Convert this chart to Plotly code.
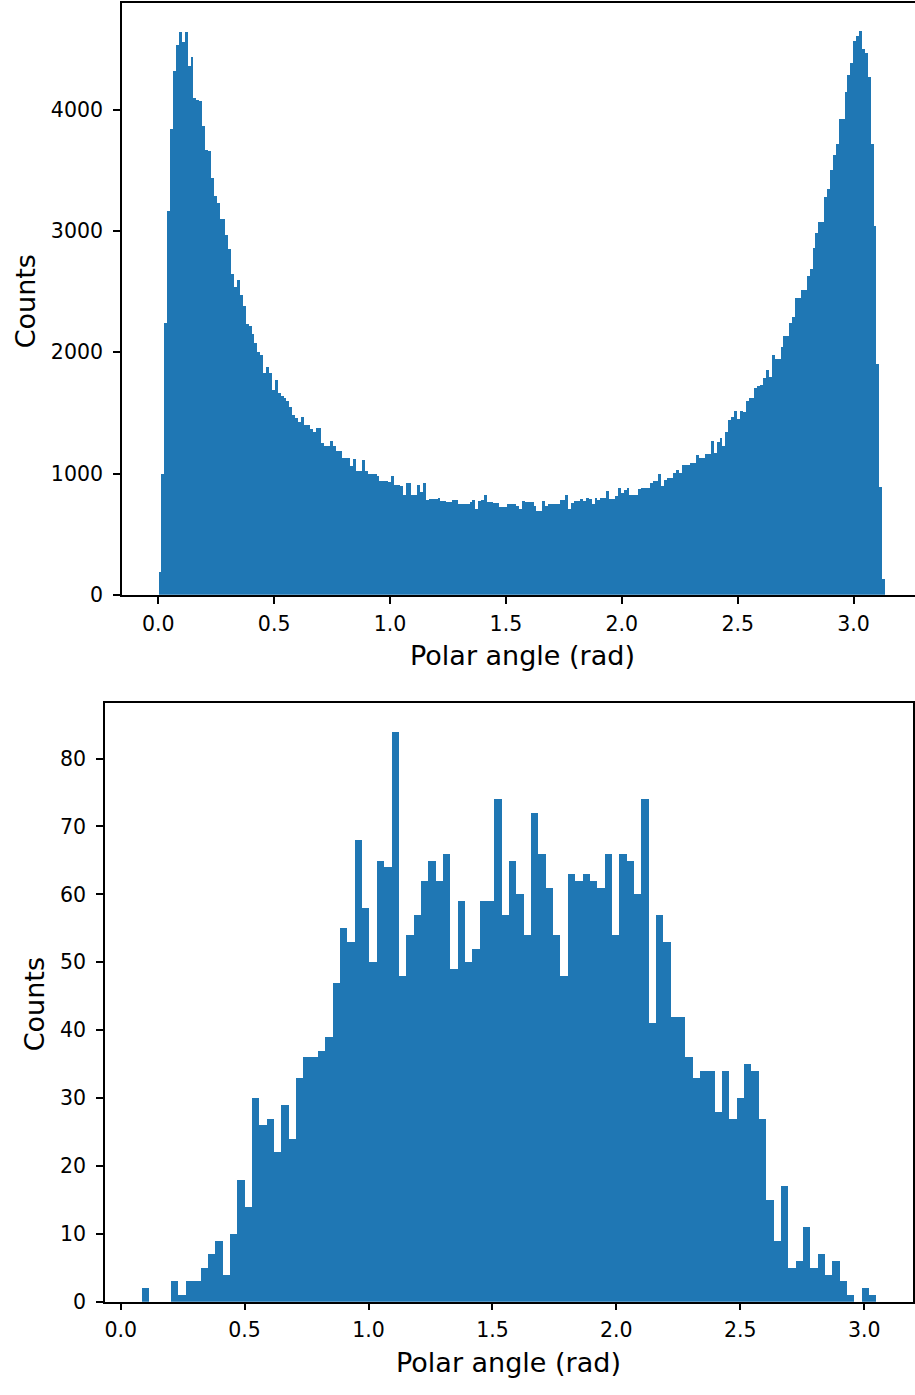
import numpy as np
import plotly.graph_objects as go

W, H = 915, 1395

# Histogram of polar angle, 250 bins (counts per bin)
top_counts = [
    190, 1000, 2240, 3165, 3840, 4320, 4530, 4645, 4555, 4640,
    4360, 4435, 4100, 4080, 4070, 3870, 3670, 3660, 3440, 3290,
    3230, 3100, 3095, 2970, 2850, 2645, 2540, 2600, 2475, 2380,
    2235, 2215, 2155, 2075, 2000, 1980, 1830, 1880, 1830, 1690,
    1770, 1665, 1640, 1625, 1600, 1545, 1480, 1455, 1425, 1465,
    1400, 1400, 1370, 1345, 1375, 1375, 1250, 1227, 1227, 1265,
    1227, 1186, 1186, 1132, 1132, 1132, 1059, 1120, 1021, 1021,
    1116, 1021, 995, 995, 995, 980, 941, 941, 935, 932,
    983, 910, 910, 894, 821, 925, 925, 821, 821, 910,
    846, 919, 783, 790, 793, 793, 799, 777, 777, 767,
    767, 783, 783, 751, 751, 751, 751, 767, 783, 710,
    777, 780, 824, 767, 767, 758, 758, 726, 726, 726,
    751, 751, 751, 735, 710, 770, 767, 767, 767, 735,
    694, 694, 773, 735, 751, 751, 751, 751, 783, 783,
    821, 710, 758, 770, 777, 793, 773, 799, 789, 751,
    799, 783, 799, 799, 856, 789, 789, 815, 878, 837,
    862, 878, 824, 824, 824, 869, 878, 878, 884, 926,
    941, 941, 995, 900, 948, 964, 964, 1005, 1027, 1005,
    1068, 1068, 1068, 1084, 1084, 1154, 1132, 1132, 1163, 1163,
    1268, 1173, 1258, 1290, 1227, 1344, 1439, 1465, 1512, 1449,
    1512, 1510, 1598, 1623, 1623, 1702, 1724, 1734, 1788, 1851,
    1797, 1978, 1946, 1946, 2041, 2137, 2137, 2241, 2289, 2447,
    2447, 2511, 2511, 2631, 2685, 2859, 2986, 3075, 3075, 3280,
    3350, 3502, 3630, 3720, 3925, 3925, 4148, 4290, 4388, 4565,
    4612, 4647, 4503, 4470, 4266, 3720, 3043, 1902, 888, 127,
]
top_range = (0.0007, 3.1358)

# Histogram of polar angle for the selected subset, 100 bins
bottom_counts = [
    2, 0, 0, 0, 3, 1, 3, 3, 5, 7,
    9, 4, 10, 18, 14, 30, 26, 27, 22, 29,
    24, 33, 36, 36, 37, 39, 47, 55, 53, 68,
    58, 50, 65, 64, 84, 48, 54, 57, 62, 65,
    62, 66, 49, 59, 50, 52, 59, 59, 74, 57,
    65, 60, 54, 72, 66, 61, 54, 48, 63, 62,
    63, 62, 61, 66, 54, 66, 65, 60, 74, 41,
    57, 53, 42, 42, 36, 33, 34, 34, 28, 34,
    27, 30, 35, 34, 27, 15, 9, 17, 5, 6,
    11, 5, 7, 4, 6, 3, 1, 0, 2, 1,
]
bottom_range = (0.0845, 3.0488)

x_ticks = [0.0, 0.5, 1.0, 1.5, 2.0, 2.5, 3.0]
top_y_ticks = [0, 1000, 2000, 3000, 4000]
bottom_y_ticks = [0, 10, 20, 30, 40, 50, 60, 70, 80]

BAR_COLOR = "#1f77b4"
FONT = "DejaVu Sans"


def bin_centers(counts, lo, hi):
    edges = np.linspace(lo, hi, len(counts) + 1)
    return (edges[:-1] + edges[1:]) / 2, edges[1] - edges[0]


def px(x):
    return x / W


def py(y):
    return 1 - y / H


fig = go.Figure()

c_top, w_top = bin_centers(top_counts, *top_range)
fig.add_trace(go.Bar(x=c_top, y=top_counts, width=w_top, marker_color=BAR_COLOR,
                     marker_line_width=0, xaxis="x", yaxis="y", showlegend=False))

c_bot, w_bot = bin_centers(bottom_counts, *bottom_range)
fig.add_trace(go.Bar(x=c_bot, y=bottom_counts, width=w_bot, marker_color=BAR_COLOR,
                     marker_line_width=0, xaxis="x2", yaxis="y2", showlegend=False))

axis_common = dict(
    showgrid=False, zeroline=False, showline=True, linecolor="black", linewidth=1.5,
    ticks="outside", ticklen=7, tickwidth=1.5, tickcolor="black",
    tickfont=dict(family=FONT, size=20.5, color="black"),
)

fig.update_layout(
    width=W, height=H,
    margin=dict(l=0, r=0, t=0, b=0),
    paper_bgcolor="white", plot_bgcolor="white",
    bargap=0, barmode="overlay",
    xaxis=dict(domain=[px(121), 1.0], range=[-0.157, 3.265], tickvals=x_ticks,
               tickformat=".1f", mirror=True, anchor="y", ticklabelstandoff=3, **axis_common),
    yaxis=dict(domain=[py(600), py(3)], range=[0, 4880], tickvals=top_y_ticks,
               anchor="x", ticklabelstandoff=6, **axis_common),
    xaxis2=dict(domain=[px(104), px(913)], range=[-0.0637, 3.197], tickvals=x_ticks,
                tickformat=".1f", mirror=True, anchor="y2", ticklabelstandoff=2, **axis_common),
    yaxis2=dict(domain=[py(1313), py(709)], range=[0, 88.2], tickvals=bottom_y_ticks,
                mirror=True, anchor="x2", ticklabelstandoff=6, **axis_common),
)

label_font = dict(family=FONT, size=27, color="black")
fig.add_annotation(text="Polar angle (rad)", x=px(522), y=py(661), xref="paper", yref="paper",
                   xanchor="center", yanchor="middle", showarrow=False, font=label_font)
fig.add_annotation(text="Counts", x=px(24), y=py(304), xref="paper", yref="paper",
                   xanchor="center", yanchor="middle", textangle=-90, showarrow=False, font=label_font)
fig.add_annotation(text="Polar angle (rad)", x=px(508), y=py(1374), xref="paper", yref="paper",
                   xanchor="center", yanchor="middle", showarrow=False, font=label_font)
fig.add_annotation(text="Counts", x=px(33), y=py(1013), xref="paper", yref="paper",
                   xanchor="center", yanchor="middle", textangle=-90, showarrow=False, font=label_font)

fig.write_html("out.html")
